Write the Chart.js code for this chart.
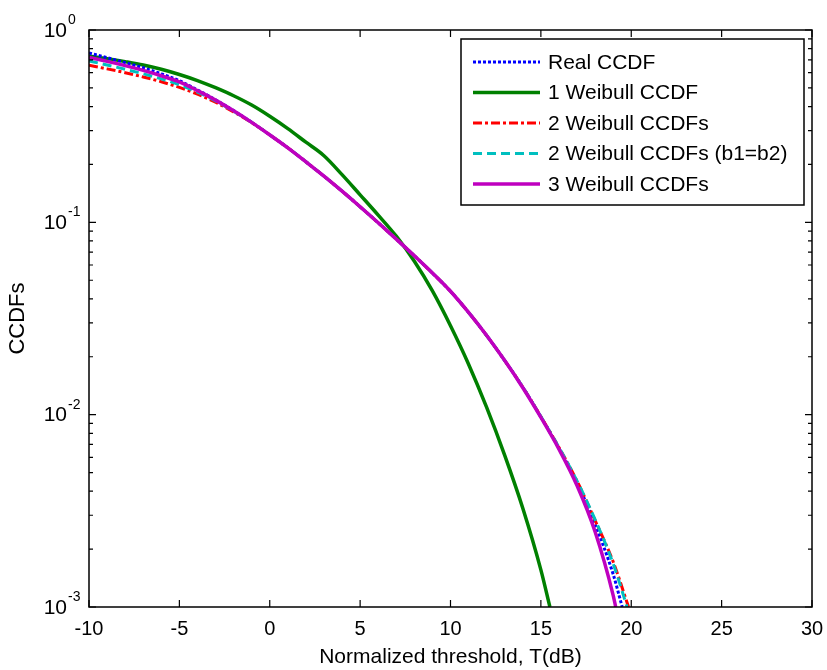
<!DOCTYPE html>
<html>
<head>
<meta charset="utf-8">
<script src="https://cdn.jsdelivr.net/npm/chart.js@4"></script>
<style>
  body { margin: 0; background: #fff; }
  #wrap { width: 827px; height: 670px; }
</style>
</head>
<body>
<div id="wrap"><canvas id="ccdfChart"></canvas></div>
<script>
// x positions (dB) shared by the curves, each series has its own last point
const thresholds = [-10, -9, -8, -7, -6, -5, -4, -3, -2, -1, 0, 1, 2, 3, 4, 5, 6, 7, 8, 9, 10, 11, 12, 13, 14, 15, 16, 17, 18, 19];

const realEnd = 19.5;
const realCcdf = [0.76, 0.718, 0.677, 0.636, 0.592, 0.545, 0.488, 0.434, 0.381, 0.331, 0.285, 0.244, 0.2065, 0.1738, 0.1452, 0.1205, 0.0995, 0.0818, 0.067, 0.0545, 0.0438, 0.034, 0.0258, 0.0191, 0.0139, 0.00973, 0.00668, 0.00442, 0.00269, 0.00148, 0.001];

const weibull1End = 15.5;
const weibull1 = [0.73, 0.71, 0.685, 0.658, 0.625, 0.587, 0.546, 0.501, 0.455, 0.407, 0.356, 0.307, 0.261, 0.222, 0.177, 0.139, 0.109, 0.0847, 0.0628, 0.044, 0.029, 0.0183, 0.0109, 0.00614, 0.00326, 0.00156, 0.001];

const weibull2End = 19.85;
const weibull2 = [0.655, 0.628, 0.6, 0.57, 0.538, 0.503, 0.464, 0.421, 0.375, 0.33, 0.285, 0.244, 0.2065, 0.1738, 0.1452, 0.1205, 0.0995, 0.0818, 0.067, 0.0545, 0.0438, 0.034, 0.0258, 0.0191, 0.0139, 0.00977, 0.00676, 0.00452, 0.00282, 0.00172, 0.001];

const weibull2SameBEnd = 19.77;
const weibull2SameB = [0.69, 0.658, 0.625, 0.592, 0.557, 0.519, 0.476, 0.428, 0.378, 0.331, 0.285, 0.244, 0.2065, 0.1738, 0.1452, 0.1205, 0.0995, 0.0818, 0.067, 0.0545, 0.0438, 0.034, 0.0258, 0.0191, 0.0139, 0.00977, 0.00676, 0.00452, 0.00285, 0.00168, 0.001];

const weibull3End = 19.14;
const weibull3 = [0.719, 0.687, 0.653, 0.617, 0.578, 0.537, 0.484, 0.432, 0.38, 0.331, 0.285, 0.244, 0.2065, 0.1738, 0.1452, 0.1205, 0.0995, 0.0818, 0.067, 0.0545, 0.0438, 0.034, 0.0258, 0.0191, 0.0138, 0.00968, 0.00662, 0.00428, 0.00246, 0.00115, 0.001];

const xTicks = { min: -10, max: 30, step: 5 };
const yDecades = [0, -1, -2, -3];

const seriesNames = ["Real CCDF", "1 Weibull CCDF", "2 Weibull CCDFs", "2 Weibull CCDFs (b1=b2)", "3 Weibull CCDFs"];

function toPoints(values, endX) {
  return values.map((v, i) => ({ x: i === values.length - 1 ? endX : thresholds[i], y: v }));
}

const font = "'Liberation Sans', Arial, sans-serif";

// MATLAB style box, inward ticks, 10^n labels and legend
const matlabAxes = {
  id: "matlabAxes",
  afterDatasetsDraw(chart) {
    const ctx = chart.ctx;
    const a = chart.chartArea;
    const xs = chart.scales.x, ys = chart.scales.y;
    ctx.save();
    ctx.strokeStyle = "#000";
    ctx.lineWidth = 1.5;
    ctx.strokeRect(a.left, a.top, a.right - a.left, a.bottom - a.top);

    ctx.lineWidth = 1.2;
    ctx.beginPath();
    for (let v = xTicks.min; v <= xTicks.max; v += xTicks.step) {
      const px = xs.getPixelForValue(v);
      ctx.moveTo(px, a.bottom); ctx.lineTo(px, a.bottom - 7);
      ctx.moveTo(px, a.top); ctx.lineTo(px, a.top + 7);
    }
    yDecades.forEach(e => {
      const py = ys.getPixelForValue(Math.pow(10, e));
      ctx.moveTo(a.left, py); ctx.lineTo(a.left + 7, py);
      ctx.moveTo(a.right, py); ctx.lineTo(a.right - 7, py);
      if (e > -3) {
        for (let m = 2; m <= 9; m++) {
          const pm = ys.getPixelForValue(m * Math.pow(10, e - 1));
          ctx.moveTo(a.left, pm); ctx.lineTo(a.left + 4, pm);
          ctx.moveTo(a.right, pm); ctx.lineTo(a.right - 4, pm);
        }
      }
    });
    ctx.stroke();

    ctx.fillStyle = "#000";
    yDecades.forEach(e => {
      const py = ys.getPixelForValue(Math.pow(10, e));
      ctx.font = "21px " + font;
      ctx.textAlign = "right";
      ctx.textBaseline = "middle";
      ctx.fillText("10", a.left - 22, py + 1);
      ctx.font = "14px " + font;
      ctx.textAlign = "left";
      ctx.textBaseline = "alphabetic";
      ctx.fillText(String(e), a.left - 21, py - 6);
    });

    // legend
    const lx = a.right - 351, ly = a.top + 9, lw = 343, lh = 166;
    ctx.fillStyle = "#fff";
    ctx.fillRect(lx, ly, lw, lh);
    ctx.strokeStyle = "#000";
    ctx.lineWidth = 1.5;
    ctx.strokeRect(lx, ly, lw, lh);
    seriesNames.forEach((name, i) => {
      const ds = chart.data.datasets.find(d => d.label === name);
      const ry = ly + 23 + i * 30.5;
      ctx.strokeStyle = ds.borderColor;
      ctx.lineWidth = ds.borderWidth;
      ctx.setLineDash(ds.borderDash || []);
      ctx.beginPath();
      ctx.moveTo(lx + 12, ry); ctx.lineTo(lx + 79, ry);
      ctx.stroke();
      ctx.setLineDash([]);
      ctx.fillStyle = "#000";
      ctx.font = "21px " + font;
      ctx.textAlign = "left";
      ctx.textBaseline = "middle";
      ctx.fillText(name, lx + 87, ry + 1);
    });
    ctx.restore();
  }
};

const datasets = [
  { label: seriesNames[4], data: toPoints(weibull3, weibull3End), borderColor: "#bf00bf", borderWidth: 3.5, order: 1 },
  { label: seriesNames[3], data: toPoints(weibull2SameB, weibull2SameBEnd), borderColor: "#00bfbf", borderWidth: 3, borderDash: [9, 5], order: 2 },
  { label: seriesNames[2], data: toPoints(weibull2, weibull2End), borderColor: "#ff0000", borderWidth: 3, borderDash: [9, 3, 3, 3], order: 3 },
  { label: seriesNames[0], data: toPoints(realCcdf, realEnd), borderColor: "#0000ff", borderWidth: 3, borderDash: [3, 2], order: 4 },
  { label: seriesNames[1], data: toPoints(weibull1, weibull1End), borderColor: "#008000", borderWidth: 3.5, order: 5 }
].map(d => Object.assign(d, { pointRadius: 0, fill: false, cubicInterpolationMode: "monotone" }));

new Chart(document.getElementById("ccdfChart"), {
  type: "line",
  data: { datasets: datasets },
  options: {
    responsive: true,
    maintainAspectRatio: false,
    animation: false,
    layout: { padding: { top: 30, right: 15, left: 0, bottom: 0 } },
    plugins: { legend: { display: false }, tooltip: { enabled: false } },
    scales: {
      x: {
        type: "linear",
        min: xTicks.min,
        max: xTicks.max,
        afterFit: s => { s.height = 63; s.paddingLeft = 0; s.paddingRight = 0; },
        grid: { display: false, drawTicks: false },
        border: { display: false },
        ticks: { stepSize: xTicks.step, padding: 10, color: "#000", font: { family: font, size: 20 } },
        title: { display: true, text: "Normalized threshold, T(dB)", color: "#000", padding: { top: 0, bottom: 0 }, font: { family: font, size: 21 } }
      },
      y: {
        type: "logarithmic",
        min: 0.001,
        max: 1,
        afterFit: s => { s.width = 89; s.paddingTop = 0; s.paddingBottom = 0; },
        grid: { display: false, drawTicks: false },
        border: { display: false },
        ticks: { callback: () => "" },
        title: { display: true, text: "CCDFs", color: "#000", padding: { top: 5, bottom: 0 }, font: { family: font, size: 22 } }
      }
    }
  },
  plugins: [matlabAxes]
});
</script>
</body>
</html>
